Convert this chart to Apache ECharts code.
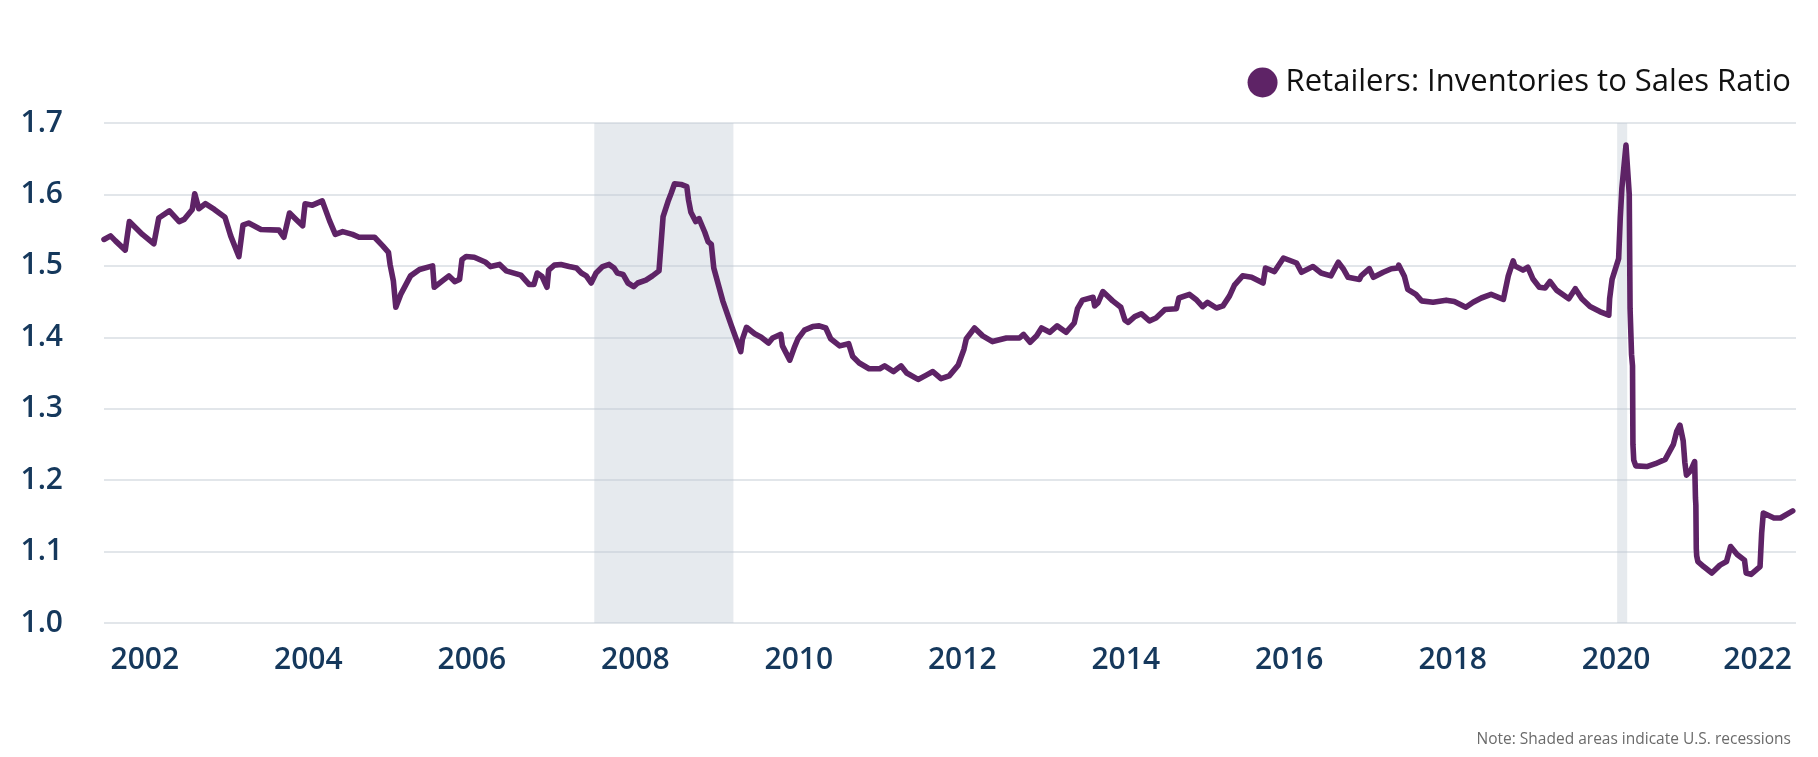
<!DOCTYPE html>
<html>
<head>
<meta charset="utf-8">
<script src="https://cdn.jsdelivr.net/npm/echarts@6/dist/echarts.min.js"></script>
<style>
html,body{margin:0;padding:0;background:#ffffff;}
#chart{width:1818px;height:757px;}
</style>
</head>
<body>
<div id="chart"></div>
<script>
// Decimal-year positions of the readings
const dates = [
2001.50,2001.58,2001.64,2001.76,2001.81,2001.89,2001.97,2002.11,2002.17,2002.30,
2002.42,2002.48,2002.58,2002.61,2002.66,2002.74,2002.85,2002.98,2003.05,2003.15,
2003.20,2003.27,2003.42,2003.64,2003.70,2003.77,2003.85,2003.93,2003.96,2004.05,
2004.17,2004.26,2004.33,2004.42,2004.54,2004.62,2004.81,2004.91,2004.98,2005.00,
2005.04,2005.07,2005.13,2005.25,2005.36,2005.52,2005.54,2005.64,2005.72,2005.79,
2005.85,2005.88,2005.93,2006.03,2006.17,2006.23,2006.34,2006.42,2006.60,2006.70,
2006.76,2006.80,2006.86,2006.92,2006.94,2007.01,2007.09,2007.19,2007.28,2007.34,
2007.40,2007.46,2007.52,2007.60,2007.68,2007.74,2007.78,2007.85,2007.91,2007.98,
2008.03,2008.13,2008.21,2008.29,2008.34,2008.40,2008.44,2008.48,2008.56,2008.63,
2008.65,2008.68,2008.74,2008.78,2008.85,2008.89,2008.93,2008.96,2009.07,2009.17,
2009.29,2009.31,2009.36,2009.46,2009.54,2009.63,2009.68,2009.78,2009.80,2009.89,
2009.95,2009.99,2010.07,2010.17,2010.25,2010.33,2010.39,2010.50,2010.61,2010.66,
2010.74,2010.86,2010.99,2011.05,2011.16,2011.25,2011.32,2011.46,2011.56,2011.64,
2011.74,2011.84,2011.95,2012.02,2012.05,2012.15,2012.25,2012.37,2012.54,2012.70,
2012.75,2012.83,2012.91,2012.97,2013.07,2013.16,2013.27,2013.37,2013.41,2013.47,
2013.60,2013.62,2013.66,2013.72,2013.84,2013.94,2013.99,2014.03,2014.11,2014.19,
2014.29,2014.37,2014.48,2014.62,2014.65,2014.78,2014.86,2014.94,2015.00,2015.11,
2015.19,2015.27,2015.33,2015.43,2015.54,2015.68,2015.71,2015.82,2015.93,2016.09,
2016.15,2016.29,2016.39,2016.51,2016.60,2016.66,2016.72,2016.86,2016.88,2016.98,
2017.03,2017.15,2017.25,2017.33,2017.34,2017.41,2017.45,2017.55,2017.62,2017.76,
2017.92,2018.02,2018.16,2018.25,2018.35,2018.47,2018.62,2018.68,2018.74,2018.76,
2018.86,2018.92,2018.98,2019.06,2019.13,2019.19,2019.27,2019.42,2019.50,2019.58,
2019.68,2019.80,2019.91,2019.92,2019.95,2020.03,2020.05,2020.07,2020.12,2020.16,
2020.17,2020.188,2020.20,2020.205,2020.215,2020.24,2020.375,2020.48,2020.60,2020.70,
2020.74,2020.78,2020.82,2020.84,2020.86,2020.91,2020.96,2020.97,2020.975,2020.98,
2020.985,2021.00,2021.07,2021.17,2021.27,2021.35,2021.40,2021.48,2021.57,2021.59,
2021.65,2021.76,2021.78,2021.80,2021.93,2022.01,2022.16
];

// Retailers: Inventories to Sales Ratio
const ratio = [
1.537,1.542,1.535,1.522,1.562,1.553,1.544,1.531,1.567,1.577,
1.562,1.565,1.579,1.601,1.580,1.587,1.579,1.568,1.542,1.513,
1.557,1.560,1.551,1.550,1.540,1.574,1.565,1.556,1.587,1.585,
1.591,1.563,1.544,1.548,1.544,1.540,1.540,1.528,1.519,1.502,
1.479,1.442,1.460,1.486,1.495,1.500,1.470,1.479,1.486,1.478,
1.481,1.509,1.513,1.512,1.505,1.499,1.502,1.493,1.487,1.474,
1.474,1.490,1.485,1.470,1.494,1.501,1.502,1.499,1.497,1.490,
1.486,1.476,1.490,1.499,1.502,1.497,1.490,1.488,1.476,1.471,
1.476,1.480,1.486,1.493,1.569,1.590,1.602,1.615,1.614,1.611,
1.593,1.575,1.562,1.566,1.547,1.534,1.530,1.497,1.451,1.418,
1.380,1.397,1.414,1.405,1.400,1.392,1.399,1.404,1.388,1.368,
1.387,1.398,1.410,1.415,1.416,1.413,1.398,1.388,1.391,1.373,
1.364,1.356,1.356,1.360,1.352,1.360,1.350,1.341,1.347,1.352,
1.342,1.346,1.361,1.383,1.398,1.413,1.402,1.394,1.399,1.399,
1.404,1.393,1.402,1.413,1.407,1.416,1.407,1.420,1.440,1.452,
1.456,1.444,1.448,1.464,1.451,1.442,1.424,1.421,1.429,1.433,
1.423,1.427,1.439,1.440,1.455,1.460,1.453,1.443,1.449,1.441,
1.444,1.458,1.473,1.486,1.484,1.476,1.497,1.492,1.511,1.504,
1.491,1.499,1.490,1.486,1.505,1.496,1.484,1.481,1.486,1.496,
1.484,1.491,1.496,1.497,1.501,1.485,1.467,1.460,1.451,1.449,
1.452,1.450,1.442,1.449,1.455,1.460,1.453,1.486,1.507,1.500,
1.494,1.498,1.482,1.470,1.469,1.478,1.466,1.454,1.468,1.454,
1.443,1.436,1.431,1.454,1.481,1.510,1.567,1.609,1.669,1.600,
1.440,1.376,1.360,1.250,1.228,1.220,1.219,1.223,1.229,1.250,
1.268,1.277,1.255,1.225,1.207,1.213,1.226,1.175,1.165,1.104,
1.094,1.086,1.079,1.070,1.081,1.086,1.107,1.096,1.088,1.070,
1.068,1.079,1.126,1.154,1.147,1.147,1.157
];

// Shaded recession spans (decimal years, as placed in the reference)
const recessionStarts = [2007.498, 2020.012];
const recessionEnds   = [2009.200, 2020.135];

// Tick labels
const xTickYears = [2002, 2004, 2006, 2008, 2010, 2012, 2014, 2016, 2018, 2020, 2022];
const yMin = 1.0, yMax = 1.7, yStep = 0.1;

const seriesName = 'Retailers: Inventories to Sales Ratio';
const noteText = 'Note: Shaded areas indicate U.S. recessions';

const FONT = 'Open Sans';
const NAVY = '#15385c';
const PURPLE = '#5e2366';

const chart = echarts.init(document.getElementById('chart'), null, {renderer: 'canvas'});

const option = {
  backgroundColor: '#ffffff',
  animation: false,
  title: [{
    text: noteText,
    right: 22,
    top: 727,
    textStyle: {fontFamily: FONT, fontSize: 15.5, fontWeight: 'normal', color: '#6b6b6b'}
  }],
  legend: {
    data: [seriesName],
    right: 22,
    top: 62,
    icon: 'circle',
    itemWidth: 30,
    itemHeight: 30,
    selectedMode: false,
    textStyle: {fontFamily: FONT, fontSize: 31, fontWeight: 500, color: '#111111', padding: [0, 0, 0, 3]}
  },
  grid: {left: 104, right: 22, top: 123, bottom: 134, containLabel: false},
  xAxis: {
    type: 'value',
    min: 2001.5,
    max: 2022.2,
    axisLine: {show: false},
    axisTick: {show: false},
    splitLine: {show: false},
    axisLabel: {
      customValues: xTickYears,
      margin: 22,
      fontFamily: FONT,
      fontSize: 30,
      fontWeight: 600,
      color: NAVY,
      formatter: function (v) {
        return v === 2022 ? '{e|2022}' : String(v);
      },
      rich: {
        e: {fontFamily: FONT, fontSize: 30, fontWeight: 600, color: NAVY, padding: [0, 44, 0, 0]}
      }
    }
  },
  yAxis: {
    type: 'value',
    min: yMin,
    max: yMax,
    interval: yStep,
    axisLine: {show: false},
    axisTick: {show: false},
    splitLine: {show: true, lineStyle: {color: '#d9dee3', width: 1.6}},
    axisLabel: {
      margin: 41,
      fontFamily: FONT,
      fontSize: 30,
      fontWeight: 600,
      color: NAVY,
      formatter: function (v) { return v.toFixed(1); }
    }
  },
  series: [{
    name: seriesName,
    type: 'line',
    data: dates.map(function (d, i) { return [d, ratio[i]]; }),
    showSymbol: false,
    symbol: 'none',
    smooth: false,
    itemStyle: {color: PURPLE},
    lineStyle: {color: PURPLE, width: 5.6, join: 'round', cap: 'round'},
    markArea: {
      silent: true,
      itemStyle: {color: 'rgba(190,200,210,0.38)'},
      data: recessionStarts.map(function (s, i) {
        return [{xAxis: s}, {xAxis: recessionEnds[i]}];
      })
    }
  }]
};

chart.setOption(option);
</script>
</body>
</html>
